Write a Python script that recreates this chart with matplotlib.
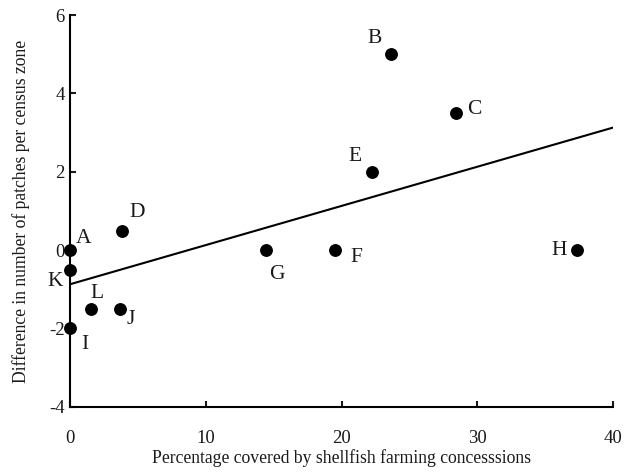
import numpy as np
import matplotlib.pyplot as plt

# site labels and values
sites = ['A', 'B', 'C', 'D', 'E', 'F', 'G', 'H', 'I', 'J', 'K', 'L']
pct_covered = [0.0, 23.6, 28.4, 3.8, 22.2, 19.5, 14.4, 37.3, 0.0, 3.7, 0.0, 1.5]
patch_diff = [0.0, 5.0, 3.5, 0.5, 2.0, 0.0, 0.0, 0.0, -2.0, -1.5, -0.5, -1.5]

# fitted line (as drawn in the figure)
fit_x = [0, 40]
fit_intercept = -0.87
fit_slope = 0.1

# label offsets in pixels
label_offsets = {
    'A': (13, 12), 'B': (-16, 16), 'C': (19, 4), 'D': (15, 18),
    'E': (-17, 15), 'F': (21, -7), 'G': (11, -24), 'H': (-17, 0),
    'I': (15, -16), 'J': (10, -11), 'K': (-15, -12), 'L': (6, 15),
}

plt.rcParams['font.family'] = ['Liberation Serif', 'DejaVu Serif']
plt.rcParams['axes.unicode_minus'] = False

fig = plt.figure(figsize=(6.27, 4.73), dpi=100)
ax = fig.add_axes([0.112, 0.140, 0.866, 0.828])

fx = np.array(fit_x, dtype=float)
ax.plot(fx, fit_intercept + fit_slope * fx, color='black', linewidth=1.5, zorder=2)
ax.scatter(pct_covered, patch_diff, s=68, color='black', zorder=3, clip_on=False)

for name, x, y in zip(sites, pct_covered, patch_diff):
    dx, dy = label_offsets[name]
    ax.annotate(name, (x, y), xytext=(dx, dy), textcoords='offset pixels',
                ha='center', va='center', fontsize=15.5, color='#1a1a1a')

ax.set_xlim(0, 40)
ax.set_ylim(-4, 6)
ax.set_xticks([0, 10, 20, 30, 40])
ax.set_yticks([-4, -2, 0, 2, 4, 6])
ax.spines['top'].set_visible(False)
ax.spines['right'].set_visible(False)
for s in ['left', 'bottom']:
    ax.spines[s].set_linewidth(1.5)
ax.tick_params(direction='in', length=4.5, width=1.5, labelsize=13.5, colors='#1a1a1a')
ax.tick_params(axis='x', pad=17)
ax.tick_params(axis='y', pad=4)

ax.set_xlabel('Percentage covered by shellfish farming concesssions', fontsize=12.7,
              labelpad=1, color='#1a1a1a')
ax.set_ylabel('Difference in number of patches per census zone', fontsize=12.7,
              labelpad=14, color='#1a1a1a')

fig.savefig('out.png', dpi=100)
